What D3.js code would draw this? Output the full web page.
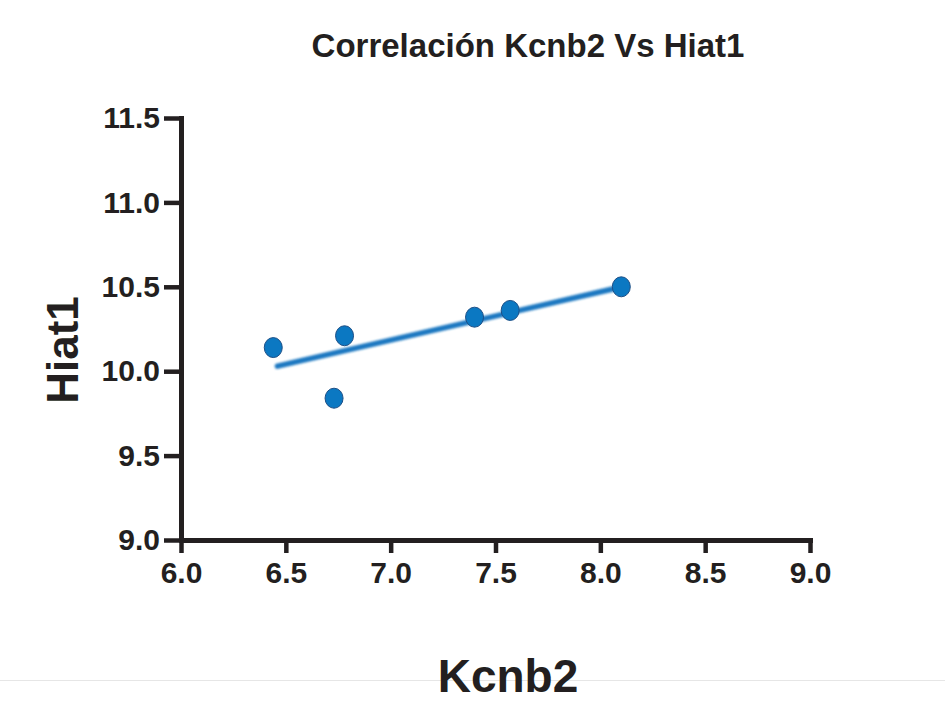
<!DOCTYPE html>
<html>
<head>
<meta charset="utf-8">
<title>Correlación Kcnb2 Vs Hiat1</title>
<script src="https://cdn.jsdelivr.net/npm/d3@7"></script>
<style>
  body { margin: 0; background: #fff; }
  text { font-family: "Liberation Sans", Arial, sans-serif; font-weight: bold; fill: #231f20; }
</style>
</head>
<body>
<div id="chart"></div>
<script>
// values
const kcnb2 = [6.44, 6.78, 6.73, 7.40, 7.57, 8.10];
const hiat1 = [10.14, 10.21, 9.84, 10.32, 10.36, 10.50];
// fitted line end points
const fitX = [6.46, 8.07];
const fitY = [10.03, 10.49];
const xTicks = [6.0, 6.5, 7.0, 7.5, 8.0, 8.5, 9.0];
const yTicks = [9.0, 9.5, 10.0, 10.5, 11.0, 11.5];

const w = 945, h = 703;
const svg = d3.select("#chart").append("svg")
    .attr("width", w)
    .attr("height", h);

const xScale = d3.scaleLinear().domain([6, 9]).range([181, 810]);
const yScale = d3.scaleLinear().domain([9, 11.5]).range([540, 118]);

// faint line near the bottom
svg.append("line")
    .attr("x1", 0).attr("x2", w)
    .attr("y1", 680.5).attr("y2", 680.5)
    .attr("stroke", "#e6e6e6").attr("stroke-width", 1);

const yAxis = d3.axisLeft(yScale)
    .tickValues(yTicks)
    .tickFormat(d3.format(".1f"))
    .tickSize(17)
    .tickSizeOuter(0)
    .tickPadding(4);

const xAxis = d3.axisBottom(xScale)
    .tickValues(xTicks)
    .tickFormat(d3.format(".1f"))
    .tickSize(13)
    .tickSizeOuter(0)
    .tickPadding(9);

const gx = svg.append("g")
    .attr("transform", "translate(0,540)")
    .call(xAxis);
const gy = svg.append("g")
    .attr("transform", "translate(181,0)")
    .call(yAxis);

[gx, gy].forEach(g => {
  g.select(".domain").attr("stroke", "#231f20").attr("stroke-width", 5)
    .attr("stroke-linecap", "square");
  g.selectAll(".tick line").attr("stroke", "#231f20").attr("stroke-width", 4.5);
  g.selectAll(".tick text").attr("fill", "#231f20")
    .style("font-size", "30px")
    .style("font-family", "Liberation Sans, Arial")
    .style("font-weight", "bold");
});

// regression line
const defs = svg.append("defs");
defs.append("filter").attr("id", "soft")
  .append("feGaussianBlur").attr("stdDeviation", 0.8);

svg.append("line")
    .attr("x1", xScale(fitX[0])).attr("y1", yScale(fitY[0]))
    .attr("x2", xScale(fitX[1])).attr("y2", yScale(fitY[1]))
    .attr("stroke", "#1f78c1")
    .attr("stroke-width", 5.5)
    .attr("stroke-linecap", "round")
    .attr("filter", "url(#soft)");

// points
svg.selectAll("ellipse.pt")
    .data(kcnb2.map((x, i) => [x, hiat1[i]]))
    .enter()
    .append("ellipse")
    .attr("class", "pt")
    .attr("cx", d => xScale(d[0]))
    .attr("cy", d => yScale(d[1]))
    .attr("rx", 9)
    .attr("ry", 10)
    .attr("fill", "#0b78c2")
    .attr("stroke", "#1d4f86")
    .attr("stroke-width", 1);

// titles
svg.append("text")
    .attr("x", 528).attr("y", 57)
    .attr("text-anchor", "middle")
    .style("font-size", "33px")
    .text("Correlación Kcnb2 Vs Hiat1");

svg.append("text")
    .attr("transform", "translate(78,350) rotate(-90)")
    .attr("text-anchor", "middle")
    .style("font-size", "44px")
    .text("Hiat1");

svg.append("text")
    .attr("x", 508).attr("y", 692)
    .attr("text-anchor", "middle")
    .style("font-size", "46px")
    .text("Kcnb2");
</script>
</body>
</html>
